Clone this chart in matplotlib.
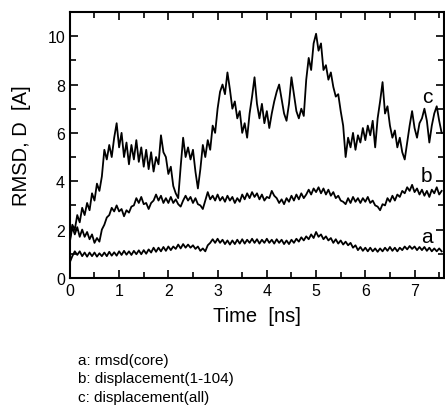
import numpy as np
import matplotlib.pyplot as plt
from matplotlib.ticker import MultipleLocator

plt.rcParams['font.family'] = ['Liberation Sans', 'DejaVu Sans']

# sampling step of the traces, ns
dt = 0.05

# a: rmsd(core)
rmsd_core = [
    0.65, 0.9, 1.1, 0.95, 1.1, 0.9, 1.05, 0.88, 1.05, 0.9,
    1.05, 0.88, 1.02, 0.9, 1.05, 0.9, 1.08, 0.92, 1.06, 0.92,
    1.1, 0.95, 1.12, 0.96, 1.1, 0.95, 1.12, 0.98, 1.14, 0.98,
    1.15, 1.0, 1.18, 1.05, 1.25, 1.08, 1.25, 1.1, 1.28, 1.12,
    1.3, 1.15, 1.3, 1.2, 1.38, 1.22, 1.4, 1.25, 1.38, 1.25,
    1.35, 1.2, 1.3, 1.12, 1.22, 1.1, 1.35, 1.45, 1.6, 1.45,
    1.62, 1.45, 1.58, 1.4, 1.55, 1.38, 1.55, 1.4, 1.58, 1.42,
    1.6, 1.42, 1.58, 1.45, 1.62, 1.45, 1.6, 1.42, 1.58, 1.45,
    1.62, 1.45, 1.58, 1.42, 1.6, 1.45, 1.58, 1.4, 1.55, 1.4,
    1.58, 1.45, 1.62, 1.5, 1.68, 1.55, 1.72, 1.6, 1.8, 1.65,
    1.9, 1.7, 1.8, 1.6, 1.72, 1.55, 1.65, 1.45, 1.6, 1.42,
    1.55, 1.38, 1.5, 1.35, 1.45, 1.25, 1.35, 1.15, 1.28, 1.12,
    1.25, 1.1, 1.25, 1.1, 1.22, 1.08, 1.22, 1.1, 1.25, 1.12,
    1.28, 1.12, 1.25, 1.1, 1.25, 1.15, 1.3, 1.18, 1.32, 1.2,
    1.3, 1.15, 1.28, 1.15, 1.28, 1.12, 1.25, 1.1, 1.22, 1.1,
    1.22, 1.1,
]

# b: displacement(1-104)
disp_104 = [
    1.5, 2.1, 1.8, 2.1, 1.7, 2.0, 1.7, 1.9, 1.6, 1.8,
    1.45, 1.65, 1.5, 2.0, 2.2, 2.5, 2.6, 2.9, 2.75, 3.0,
    2.75, 2.85, 2.55, 2.8, 2.7, 2.95, 3.0, 3.3, 3.1, 3.35,
    3.05, 3.1, 2.85, 3.1, 3.2, 3.45, 3.2, 3.4, 3.1, 3.3,
    3.1, 3.35, 3.1, 3.25, 3.05, 2.95, 3.2, 3.4, 3.2, 3.35,
    3.1, 3.3, 3.05, 3.0, 2.85, 3.2, 3.55, 3.25, 3.4, 3.2,
    3.45, 3.2, 3.35, 3.15, 3.4, 3.2, 3.35, 3.1, 3.3, 3.15,
    3.45, 3.25, 3.5, 3.3, 3.55, 3.35, 3.5, 3.25, 3.45, 3.2,
    3.35, 3.3, 3.6, 3.4, 3.3, 3.1, 3.25, 3.05, 3.3, 3.15,
    3.4, 3.2, 3.45, 3.25, 3.5, 3.3, 3.45, 3.65, 3.45, 3.7,
    3.55, 3.75, 3.5, 3.7, 3.45, 3.65, 3.4, 3.55, 3.3, 3.4,
    3.2, 3.15, 3.05, 3.3, 3.1, 3.35, 3.15, 3.3, 3.1, 3.3,
    3.15, 3.35, 3.1, 3.2, 3.0, 2.95, 2.8, 3.05, 3.0, 3.3,
    3.15, 3.4, 3.2, 3.45, 3.35, 3.6, 3.5, 3.75, 3.6, 3.85,
    3.55, 3.7, 3.45, 3.65, 3.4, 3.6, 3.35, 3.65, 3.5, 3.75,
    3.45, 3.6,
]

# c: displacement(all)
disp_all = [
    1.6, 2.2, 2.0, 2.6, 2.3, 2.9, 2.6, 3.1, 2.8, 3.5,
    3.2, 3.9, 3.6, 4.2, 5.3, 4.9, 5.5, 5.0, 5.8, 6.4,
    5.4, 6.0, 5.0, 5.6, 4.7, 5.5, 4.9, 5.7, 4.8, 5.4,
    4.6, 5.3, 4.5, 5.2, 4.4, 5.0, 4.7, 5.9, 5.2, 5.0,
    4.3, 4.6, 3.8, 3.5, 3.3, 4.6, 5.8, 5.0, 5.4, 4.9,
    5.3, 4.4, 3.7, 4.5, 5.5, 5.0, 5.7, 5.3, 6.3, 6.0,
    7.0, 7.7, 8.0, 7.6, 8.5, 7.8, 7.0, 7.3, 6.6, 6.9,
    6.0, 6.4, 5.8, 6.8, 7.5, 8.3, 7.2, 6.6, 7.2, 6.4,
    6.9, 6.2, 6.8, 7.3, 7.7, 8.0, 7.4, 6.8, 6.5, 7.2,
    8.3, 7.6, 6.9, 6.6, 7.0, 6.7, 8.2, 9.1, 8.6, 9.7,
    10.1, 9.4, 9.7, 8.6, 8.8, 8.2, 8.5, 7.9, 7.5, 7.6,
    6.9, 6.3, 5.0, 5.8, 5.4, 6.0, 5.3, 5.9, 5.6, 6.2,
    5.7, 6.3, 5.9, 6.5, 5.4, 6.6, 7.3, 8.1, 6.8, 7.1,
    6.3, 5.8, 6.1, 5.4, 5.8, 5.2, 4.9, 5.6, 6.3, 6.9,
    6.2, 5.8, 6.4, 6.6, 7.0, 6.5, 5.6, 6.3, 6.8, 7.1,
    6.5, 6.0,
]

legend_lines = ["a: rmsd(core)", "b: displacement(1-104)", "c: displacement(all)"]

fig = plt.figure(figsize=(4.45, 4.06), dpi=100)
ax = fig.add_axes([0.157, 0.313, 0.841, 0.655])

for series in [rmsd_core, disp_104, disp_all]:
    t = np.arange(len(series)) * dt
    ax.plot(t, series, color='black', lw=1.3)

ax.text(7.25, 1.7, "a", fontsize=15, ha='center', va='center')
ax.text(7.25, 4.25, "b", fontsize=15, ha='center', va='center')
ax.text(7.25, 7.5, "c", fontsize=15, ha='center', va='center')

ax.set_xlim(0, 7.6)
ax.set_ylim(0, 11)
ax.xaxis.set_major_locator(MultipleLocator(1))
ax.xaxis.set_minor_locator(MultipleLocator(0.5))
ax.yaxis.set_major_locator(MultipleLocator(2))
ax.yaxis.set_minor_locator(MultipleLocator(1))
ax.tick_params(which='both', direction='in', top=True, right=True, labelsize=11.5, width=1.2)
ax.tick_params(which='major', length=6)
ax.tick_params(which='minor', length=4)
for s in ax.spines.values():
    s.set_linewidth(1.5)

ax.set_xlabel("Time  [ns]", fontsize=14.5, labelpad=6)
ax.set_ylabel("RMSD, D  [A]", fontsize=14.5, labelpad=12)

for i, line in enumerate(legend_lines):
    fig.text(78 / 445, 1 - (361 + i * 18.5) / 406, line, fontsize=11, va='center')

fig.savefig("out.png", dpi=100)
